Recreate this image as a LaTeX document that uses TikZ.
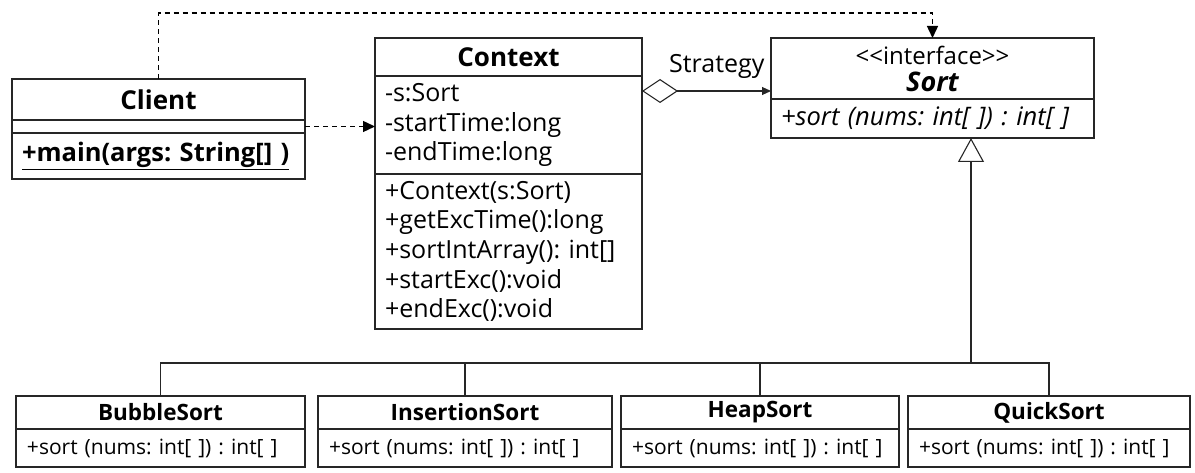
\documentclass[tikz,border=0pt]{standalone}
\usepackage{fontspec}
\setmainfont{Open Sans}
\usetikzlibrary{arrows.meta,positioning,calc}
\frenchspacing

\begin{document}
\begin{tikzpicture}[x=1pt,y=-1pt,
  box/.style={draw=black!85, line width=1.2pt, anchor=north west, inner sep=0pt, outer sep=0pt},
  title/.style={box, font=\bfseries\fontsize{26}{30}\selectfont},
  members/.style={box, inner xsep=10pt, align=left, font=\fontsize{25}{29.6}\selectfont},
  subtitle/.style={box, font=\bfseries\fontsize{22.5}{26}\selectfont},
  submembers/.style={box, inner xsep=11pt, align=left, font=\fontsize{21}{26}\selectfont},
  dep/.style={line width=1.4pt, dash pattern=on 5pt off 4pt, -{Triangle[length=12pt,width=11pt]}},
  link/.style={line width=1.1pt, draw=black!85}]
  \useasboundingbox (0,0) rectangle (1195,473);
  \def\subop{+sort (nums: int[ ]) : int[ ]}
    % client
    \node[title, minimum width=293, minimum height=41] (client) at (12,79) {Client};
    \node[box, minimum width=293, minimum height=13, below=0pt of client] (clientattr) {};
    \node[members, font=\bfseries\fontsize{25.5}{28}\selectfont, text width=273, minimum height=46, below=0pt of clientattr] (clientops) {\underline{+main(args: String[] )}};
    % context
    \node[title, minimum width=267, minimum height=38] (context) at (375,38) {Context};
    \node[members, text width=247, minimum height=98, below=0pt of context] (ctxattr) {-s:Sort\\-startTime:long\\-endTime:long};
    \node[members, text width=247, minimum height=155, below=0pt of ctxattr] (ctxops) {+Context(s:Sort)\\+getExcTime():long\\+sortIntArray(): int[]\\+startExc():void\\+endExc():void};
    % interface
    \node[box, align=center, font=\fontsize{24}{27}\selectfont, minimum width=323, minimum height=61] (sort) at (771,38) {<{}<interface>{}>\\{\bfseries\itshape\fontsize{27}{28}\selectfont Sort}};
    \node[members, font=\itshape\fontsize{25.5}{28}\selectfont, text width=303, minimum height=39, below=0pt of sort] (sortops) {\subop};
    % sort classes
    \node[subtitle, minimum width=289, minimum height=33] (bubble) at (16,396) {BubbleSort};
    \node[submembers, text width=267, minimum height=38, below=0pt of bubble] (bubbleops) {\subop};
    \node[subtitle, minimum width=294, minimum height=33] (insertion) at (318,396) {InsertionSort};
    \node[submembers, text width=272, minimum height=38, below=0pt of insertion] (insertionops) {\subop};
    \node[subtitle, minimum width=278, minimum height=33] (heap) at (621,396) {HeapSort};
    \node[submembers, text width=256, minimum height=38, below=0pt of heap] (heapops) {\subop};
    \node[subtitle, minimum width=282, minimum height=33] (quick) at (908,396) {QuickSort};
    \node[submembers, text width=260, minimum height=38, below=0pt of quick] (quickops) {\subop};
    % dependencies
    \coordinate (route) at (0,13);
    \draw[dep] (client.north) |- (route -| sort.north) -- (sort.north);
    \draw[dep] (clientattr.east) -- (clientattr.east -| context.west);
    % aggregation
    \coordinate (agg) at ($(ctxattr.north east)+(0,15)$);
    \draw[link, {Diamond[open,length=36pt,width=24pt]}-{Triangle[length=9pt,width=8pt]}] (agg) -- (agg -| sort.west)
      node[pos=1, anchor=base east, inner sep=0pt, xshift=-6pt, yshift=18pt, font=\fontsize{25}{28}\selectfont] (strategy) {Strategy};
    % generalization
    \coordinate (bar) at (0,363);
    \coordinate (gen) at (971,363);
    \draw[link] (bubble.north) |- (quick.north |- bar) -- (quick.north);
    \foreach \n in {insertion,heap}
      \draw[link] (\n.north) -- (\n.north |- bar);
    \draw[link, -{Triangle[open,length=24pt,width=26pt]}] (gen) -- (gen |- sortops.south);
\end{tikzpicture}
\end{document}
